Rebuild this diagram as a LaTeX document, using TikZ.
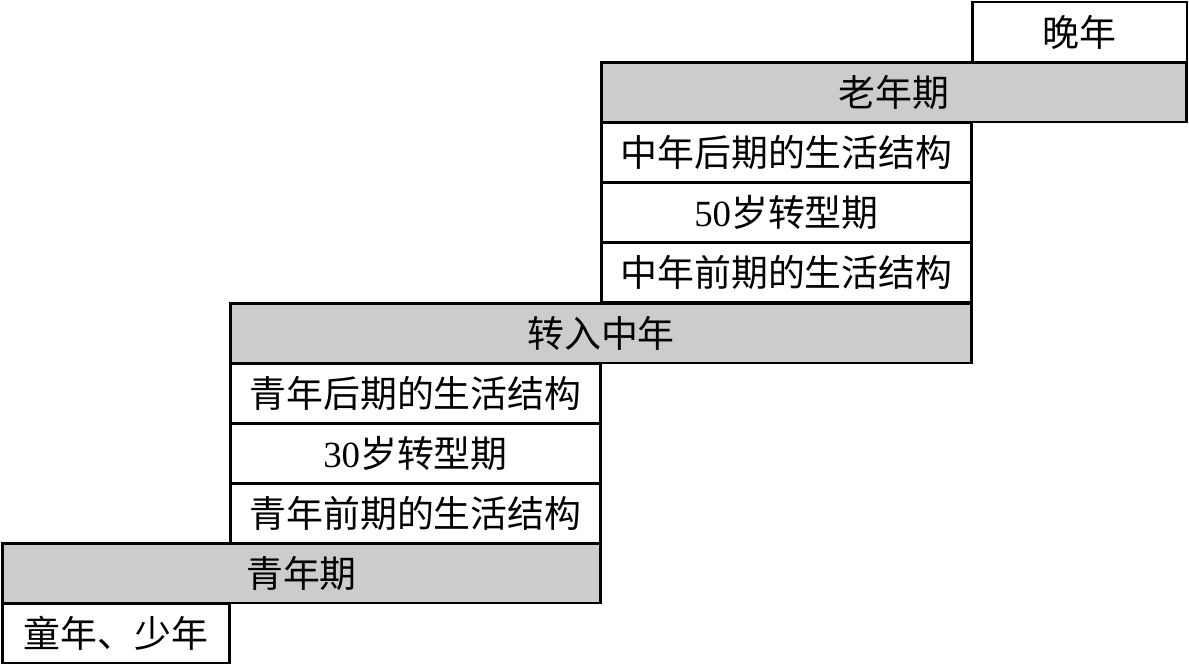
\documentclass[tikz,border=0pt]{standalone}
\usepackage{fontspec}
\setmainfont{Liberation Serif}
\newfontfamily\cjk{Noto Sans CJK SC}
\usepackage{tikz}

\begin{document}
\begin{tikzpicture}[x=0.02cm,y=-0.02cm,
  stage/.style={draw,line width=1.7pt,inner sep=0pt,minimum height=1.2cm,
    font=\fontsize{21}{25}\selectfont\cjk},
  shaded/.style={stage,fill=gray!40}]
\useasboundingbox (0,0) rectangle (1189,666);
\node[stage,minimum width=4.56cm] (tongnian) at (116,633) {童年、少年};
\node[shaded,minimum width=11.98cm] (qingnian) at (301.5,573) {青年期};
\node[stage,minimum width=7.42cm] (qingqian) at (415.5,513) {青年前期的生活结构};
\node[stage,minimum width=7.42cm] (zhuan30) at (415.5,453) {\rmfamily 30{\cjk 岁转型期}};
\node[stage,minimum width=7.42cm] (qinghou) at (415.5,393) {青年后期的生活结构};
\node[shaded,minimum width=14.84cm] (zhuanru) at (601,333) {转入中年};
\node[stage,minimum width=7.42cm] (zhongqian) at (786.5,272.5) {中年前期的生活结构};
\node[stage,minimum width=7.42cm] (zhuan50) at (786.5,212) {\rmfamily 50{\cjk 岁转型期}};
\node[stage,minimum width=7.42cm] (zhonghou) at (786.5,152) {中年后期的生活结构};
\node[shaded,minimum width=11.72cm] (laonian) at (894,92) {老年期};
\node[stage,minimum width=4.3cm] (wan) at (1079.5,32) {晚年};

\end{tikzpicture}
\end{document}
